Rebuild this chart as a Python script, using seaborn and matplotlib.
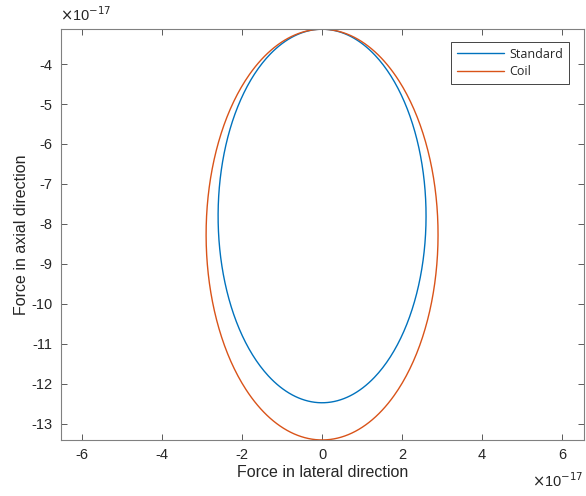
import numpy as np
import pandas as pd
import matplotlib
matplotlib.use("Agg")
import matplotlib.pyplot as plt
import seaborn as sns

# Ellipse parameters (units of 1e-17)
series_names = ["Standard", "Coil"]
centre_x = [0.0, 0.0]
centre_y = [-7.8, -8.265]
half_width = [2.6, 2.9]
half_height = [4.67, 5.135]
series_colours = ["#0072BD", "#D95319"]

x_ticks = [-6, -4, -2, 0, 2, 4, 6]
y_ticks = [-13, -12, -11, -10, -9, -8, -7, -6, -5, -4]

# Build the curves
angle = np.linspace(0, 2 * np.pi, 400)
frames = []
for i, name in enumerate(series_names):
    frames.append(pd.DataFrame({
        "x": centre_x[i] + half_width[i] * np.sin(angle),
        "y": centre_y[i] + half_height[i] * np.cos(angle),
        "series": name,
    }))
df = pd.concat(frames, ignore_index=True)

sns.set_style("ticks")
plt.rcParams["font.family"] = ["Liberation Sans", "DejaVu Sans"]
plt.rcParams["axes.unicode_minus"] = False

fig = plt.figure(figsize=(5.86, 4.96), dpi=100)
ax = fig.add_axes([0.104, 0.113, 0.8926, 0.8285])

sns.lineplot(data=df, x="x", y="y", hue="series", palette=series_colours,
             sort=False, estimator=None, linewidth=1.0, ax=ax)

ax.set_xlim(-6.53, 6.55)
ax.set_ylim(-13.4, -3.125)
ax.set_xticks(x_ticks)
ax.set_yticks(y_ticks)
ax.set_xticklabels([str(t) for t in x_ticks])
ax.set_yticklabels([str(t) for t in y_ticks])

# MATLAB-like box with inward ticks on all sides
for spine in ax.spines.values():
    spine.set_color("#808080")
    spine.set_linewidth(0.8)
ax.tick_params(direction="in", top=True, right=True, length=4, width=0.6,
               color="#404040", labelsize=10.5, labelcolor="#262626", pad=6)

ax.set_xlabel("Force in lateral direction", fontsize=11.5, color="#262626", labelpad=2)
ax.set_ylabel("Force in axial direction", fontsize=11.5, color="#262626", labelpad=2)

# Exponent labels
fig.text(0.102, 0.952, r"$\times$10$^{-17}$", fontsize=10.5, color="#262626",
         ha="left", va="bottom", math_fontfamily="dejavusans")
fig.text(0.995, 0.012, r"$\times$10$^{-17}$", fontsize=10.5, color="#262626",
         ha="right", va="bottom", math_fontfamily="dejavusans")

leg = ax.legend(loc="upper right", bbox_to_anchor=(0.971, 0.968), borderaxespad=0,
                fancybox=False, framealpha=1, edgecolor="#262626", handlelength=3.8,
                handletextpad=0.4, borderpad=0.45, labelspacing=0.35,
                prop={"family": "Open Sans", "size": 9})
leg.get_frame().set_linewidth(0.6)
leg.set_title(None)

fig.savefig("out.png", dpi=100)
